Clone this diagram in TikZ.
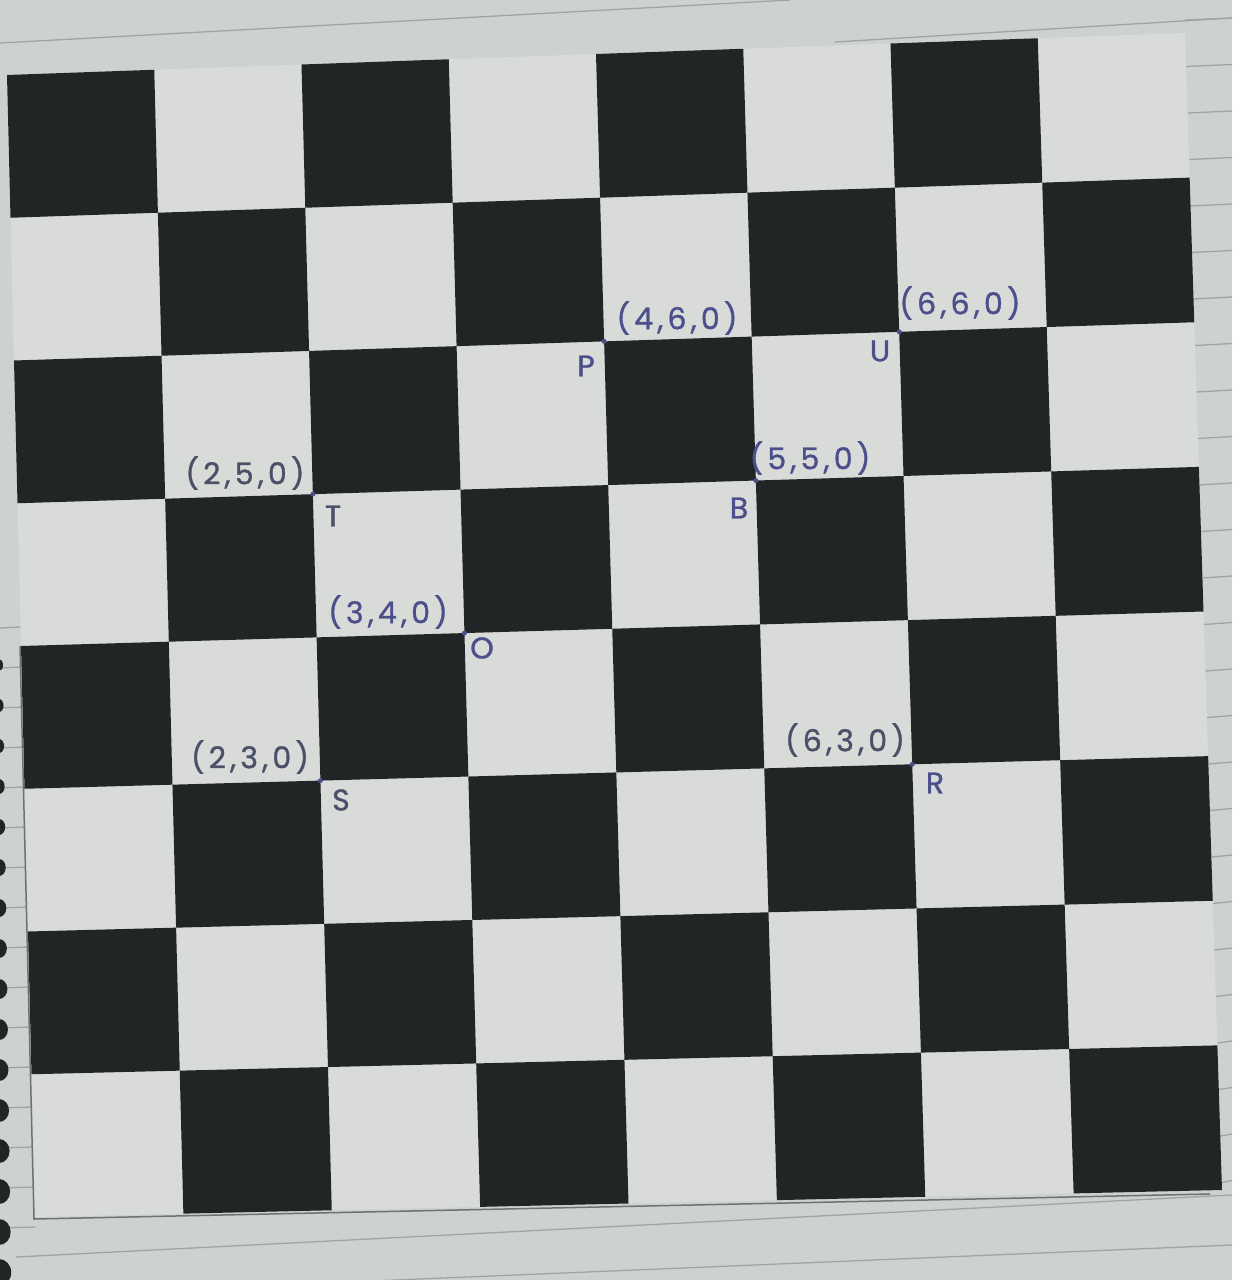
\documentclass[tikz,border=0pt]{standalone}
\usepackage{fontspec}
\newfontfamily\hand[LetterSpace=14,FakeBold=1]{Poppins}
\usetikzlibrary{calc}
\definecolor{paper}{HTML}{CED2CE}
\definecolor{lightsq}{HTML}{D8DBD7}
\definecolor{darksq}{HTML}{222526}
\definecolor{rulecol}{HTML}{A0A5A1}
\definecolor{shadowcol}{HTML}{6F736F}
\definecolor{ink}{HTML}{4B4F8C}
\definecolor{inkgray}{HTML}{4A5068}
\pgfmathdeclarefunction{bx}{2}{\pgfmathparse{7+(#1)/8*1178+(#2)/8*28+(#1)*(#2)/64*9}}
\pgfmathdeclarefunction{by}{2}{\pgfmathparse{75-(#1)/8*42+(#2)/8*1142+(#1)*(#2)/64*15}}
\begin{document}
\begin{tikzpicture}[x=1pt,y=-1pt,
  coordlabel/.style={font=\hand\fontsize{30}{32}\selectfont, inner sep=0pt},
  ptname/.style={font=\hand\fontsize{30}{32}\selectfont, inner sep=0pt},
  notebookline/.style={draw=rulecol, line width=1.3pt},
  pendot/.style={fill=ink}]
\useasboundingbox (0,0) rectangle (1232,1280);
\fill[paper] (0,0) rectangle (1232,1280);
% notebook rulings
\draw[notebookline] (0,43) -- (790,0);
\draw[notebookline] (835,42) -- (1232,18);
\draw[notebookline] (16,1257) -- (1232,1195);
\draw[notebookline] (300,1284) -- (1232,1245);
\foreach \k in {0,...,25}{
  \pgfmathsetmacro\yy{20+46.5*\k}
  \pgfmathsetmacro\xe{1185+(\yy-33)/1157*37}
  \draw[notebookline] (\xe,\yy) -- (1232,\yy-2);
}
\foreach \k in {0,...,15}{
  \pgfmathsetmacro\yy{628+40*\k}
  \pgfmathsetmacro\xe{7+(\yy-75)/1142*28}
  \draw[notebookline] (0,\yy) -- (\xe,\yy-1);
}
% spiral holes
\foreach \k in {0,...,15}{
  \pgfmathsetmacro\yy{665+40.5*\k}
  \pgfmathsetmacro\rx{4+0.55*\k}
  \pgfmathsetmacro\ry{6+0.5*\k}
  \fill[darksq] (-1,\yy) ellipse ({\rx} and {\ry});
}
% grid corners
\foreach \i in {0,...,8}{\foreach \j in {0,...,8}{
  \coordinate (g-\i-\j) at ({bx(\i,\j)},{by(\i,\j)});
}}
% board
\fill[lightsq] (g-0-0) -- (g-8-0) -- (g-8-8) -- (g-0-8) -- cycle;
\foreach \i in {0,...,7}{\foreach \j in {0,...,7}{
  \pgfmathtruncatemacro\ii{\i+1}
  \pgfmathtruncatemacro\jj{\j+1}
  \pgfmathtruncatemacro\parity{mod(\i+\j,2)}
  \ifnum\parity=0
    \fill[darksq] (g-\i-\j) -- (g-\ii-\j) -- (g-\ii-\jj) -- (g-\i-\jj) -- cycle;
  \fi
}}
\draw[shadowcol, line width=1.5pt] ($(g-0-4)+(-1,0)$) -- ($(g-0-8)+(-1,2)$) -- ($(g-8-8)+(-12,4)$);
% marked points
\coordinate (P) at (g-4-2);
\coordinate (U) at (g-6-2);
\coordinate (B) at (g-5-3);
\coordinate (T) at (g-2-3);
\coordinate (O) at (g-3-4);
\coordinate (S) at (g-2-5);
\coordinate (R) at (g-6-5);
\foreach \p in {P,U,B,T,O,S,R}{\fill[pendot] (\p) circle (2.5);}
% coordinate labels
\node[coordlabel, text=ink] (lP) at (677,318) {(4,6,0)};
\node[coordlabel, text=ink] (lU) at (960,303) {(6,6,0)};
\node[coordlabel, text=ink] (lB) at (810,458) {(5,5,0)};
\node[coordlabel, text=inkgray] (lT) at (245,473) {(2,5,0)};
\node[coordlabel, text=ink] (lO) at (388,612) {(3,4,0)};
\node[coordlabel, text=inkgray] (lS) at (250,757) {(2,3,0)};
\node[coordlabel, text=inkgray] (lR) at (845,740) {(6,3,0)};
% point names
\node[ptname, text=ink] (nP) at (586,366) {P};
\node[ptname, text=ink] (nU) at (880,351) {U};
\node[ptname, text=ink] (nB) at (739,508) {B};
\node[ptname, text=inkgray] (nT) at (333,516) {T};
\node[ptname, text=ink] (nO) at (482,648) {O};
\node[ptname, text=inkgray] (nS) at (341,800) {S};
\node[ptname, text=ink] (nR) at (935,783) {R};
\end{tikzpicture}
\end{document}
